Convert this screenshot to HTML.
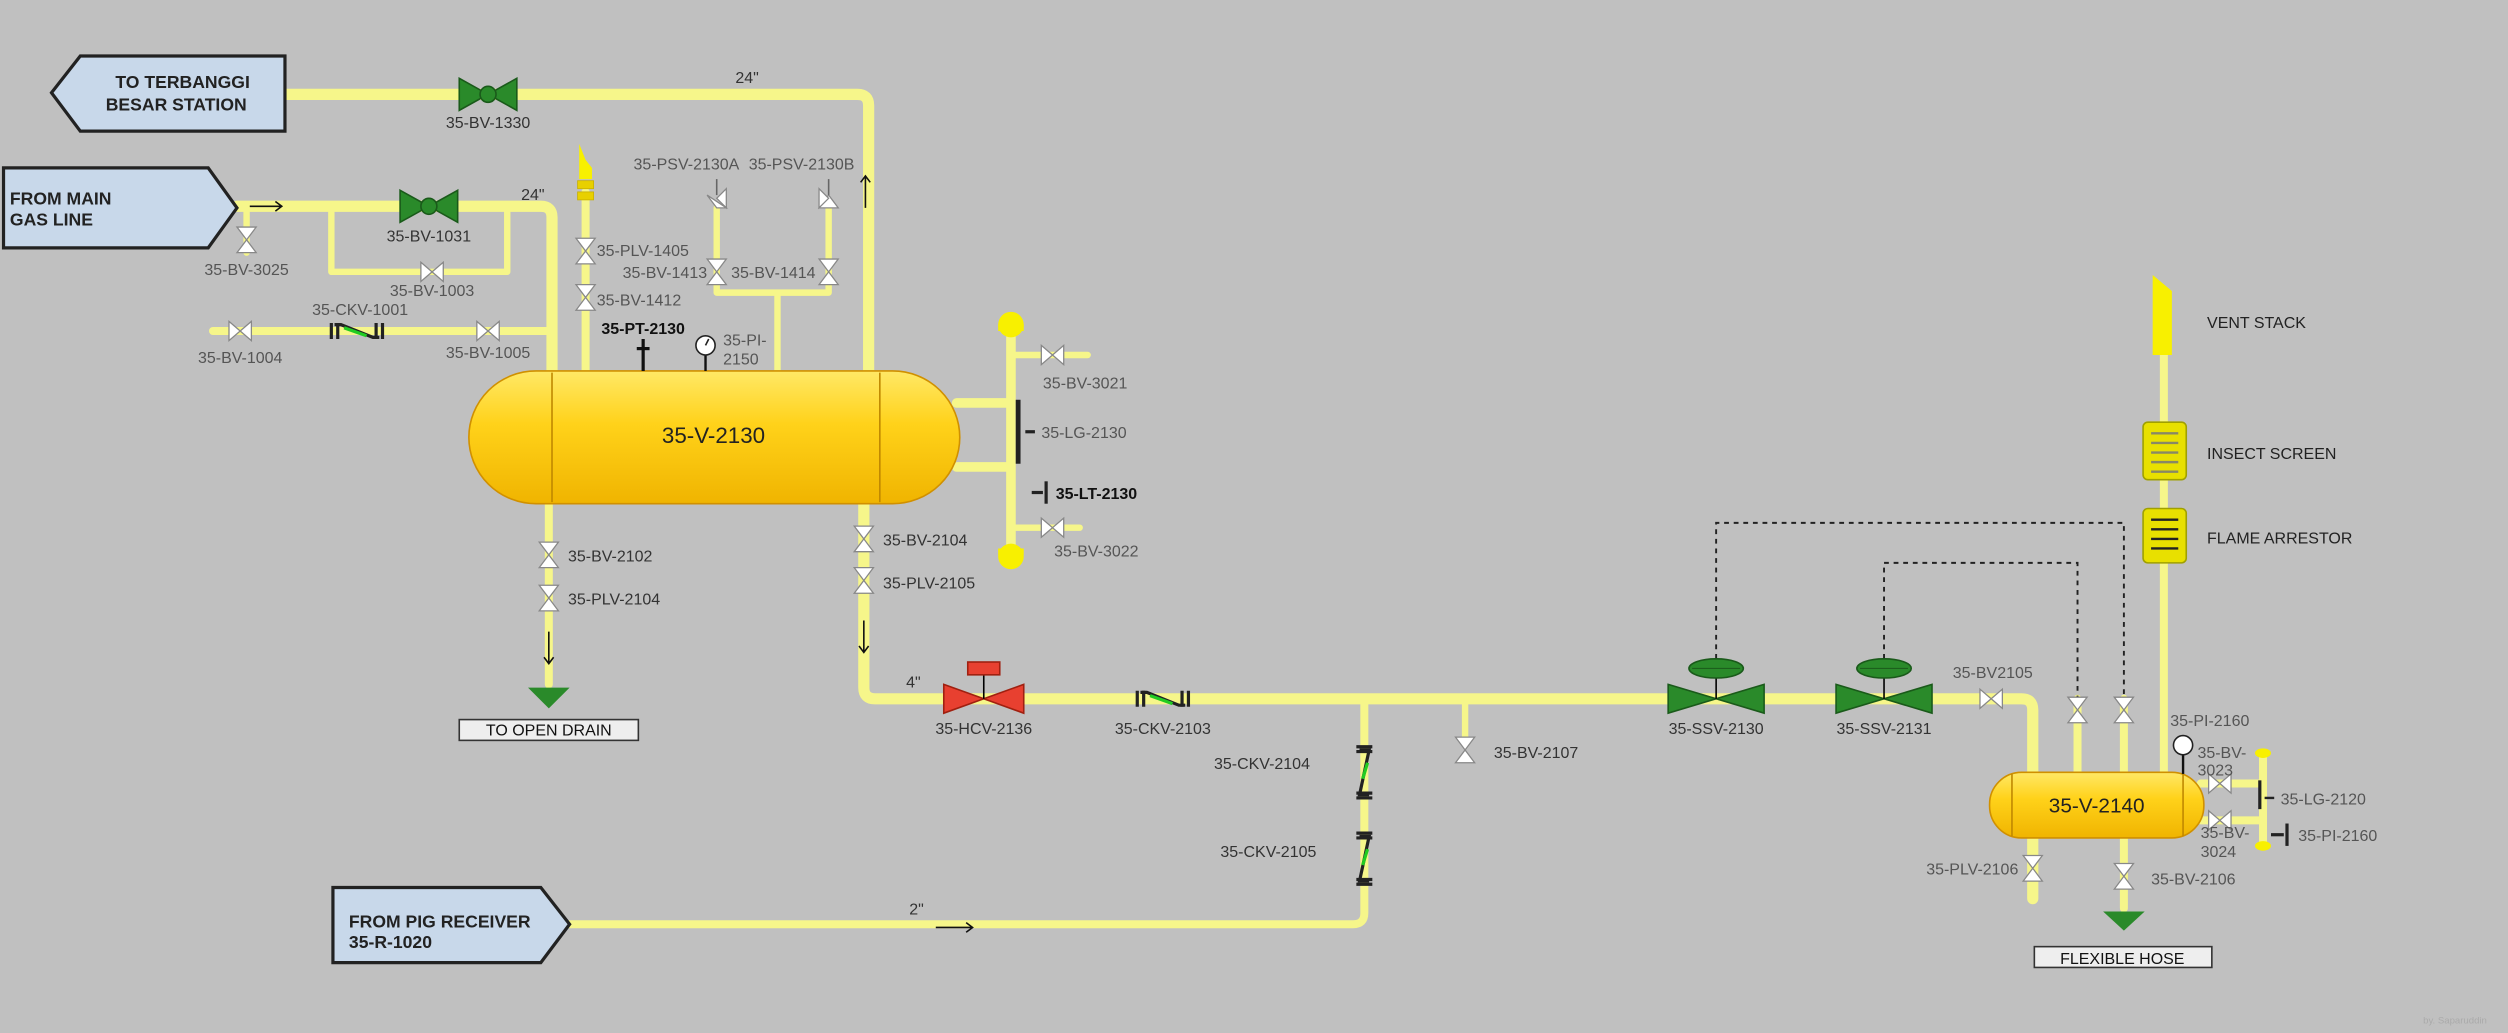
<!DOCTYPE html>
<html><head><meta charset="utf-8"><style>
html,body{margin:0;padding:0;background:#c0c0c0;}
svg{display:block}
text{font-family:"Liberation Sans Narrow","Liberation Sans",sans-serif;}
</style></head><body>
<svg width="2508" height="1033" viewBox="0 0 1568 646" xmlns="http://www.w3.org/2000/svg">
<defs>
<linearGradient id="vg" x1="0" y1="0" x2="0" y2="1">
<stop offset="0" stop-color="#ffe866"/><stop offset="0.4" stop-color="#ffd21a"/><stop offset="1" stop-color="#f0b400"/>
</linearGradient>
<g id="wv"><polygon points="-7,-6 0,0 -7,6" fill="#fff" stroke="#888" stroke-width="0.8"/><polygon points="7,-6 0,0 7,6" fill="#fff" stroke="#888" stroke-width="0.8"/></g>
<g id="wvv"><polygon points="-6,-8 0,0 6,-8" fill="#fff" stroke="#888" stroke-width="0.8"/><polygon points="-6,8 0,0 6,8" fill="#fff" stroke="#888" stroke-width="0.8"/></g>
<g id="gv"><polygon points="-18,-10 0,0 -18,10" fill="#2a8a2a" stroke="#1a5a1a"/><polygon points="18,-10 0,0 18,10" fill="#2a8a2a" stroke="#1a5a1a"/><circle r="5" fill="#2a8a2a" stroke="#1a5a1a"/></g>
<g id="ssv"><polygon points="-30,-9 0,0 -30,9" fill="#2a8a2a" stroke="#1a5a1a"/><polygon points="30,-9 0,0 30,9" fill="#2a8a2a" stroke="#1a5a1a"/><line x1="0" y1="0" x2="0" y2="-16" stroke="#000"/><ellipse cx="0" cy="-19" rx="17" ry="6" fill="#2a8a2a" stroke="#1a5a1a"/><line x1="-15" y1="-19" x2="15" y2="-19" stroke="#1a5a1a" stroke-width="0.6"/></g>
<g id="ckh"><path d="M-16,-5 L-16,5 M-12,-5 L-12,5 M12,-5 L12,5 M16,-5 L16,5" stroke="#222" stroke-width="2"/><path d="M-14,-4 L-10,-4 L10,4 L14,4" stroke="#222" stroke-width="2" fill="none"/><line x1="-8" y1="-2" x2="6" y2="3" stroke="#2c2" stroke-width="2"/></g>
<g id="ckv"><path d="M-5,-16 L5,-16 M-5,-13 L5,-13 M-5,13 L5,13 M-5,16 L5,16" stroke="#222" stroke-width="2"/><path d="M-3,-14 L3,-14 L-3,14 L3,14" stroke="#222" stroke-width="2" fill="none"/><line x1="2" y1="-6" x2="-1" y2="4" stroke="#2c2" stroke-width="2"/></g>
</defs>
<rect width="1568" height="646" fill="#c0c0c0"/>

<g fill="none" stroke="#f6f68a" stroke-linecap="round" stroke-linejoin="round">
<path d="M178,59 L536,59 Q543,59 543,66 L543,232" stroke-width="7"/>
<path d="M148,129 L338,129 Q345,129 345,136 L345,232" stroke-width="7"/>
<path d="M207,129 L207,170 L317,170 L317,129" stroke-width="4"/>
<path d="M154,129 L154,158" stroke-width="4"/>
<path d="M133,207 L342,207" stroke-width="5"/>
<path d="M366,120 L366,232" stroke-width="5"/>
<path d="M448,130 L448,183 L518,183 L518,130 M486,183 L486,232" stroke-width="4"/>
<path d="M598,252 L632,252 M598,292 L632,292 M632,205 L632,345" stroke-width="6"/>
<path d="M632,222 L680,222 M632,330 L675,330" stroke-width="4"/>
<path d="M343,315 L343,428" stroke-width="5"/>
<path d="M540,315 L540,430 Q540,437 547,437 L1264,437 Q1271,437 1271,444 L1271,562" stroke-width="7"/>
<path d="M853,437 L853,571 Q853,578 846,578 L356,578" stroke-width="5"/>
<path d="M916,437 L916,466" stroke-width="4"/>
<path d="M1299,437 L1299,483 M1328,437 L1328,483" stroke-width="5"/>
<path d="M1353,210 L1353,483" stroke-width="5"/>
<path d="M1328,524 L1328,568" stroke-width="5"/>
<path d="M1376,490 L1415,490 M1376,513 L1415,513 M1415,472 L1415,528" stroke-width="5"/>
</g>
<circle cx="632" cy="203" r="8" fill="#f8f000"/><rect x="624" y="203" width="16" height="4" fill="#f8f000"/>
<circle cx="632" cy="348" r="8" fill="#f8f000"/><rect x="624" y="343" width="16" height="4" fill="#f8f000"/>
<ellipse cx="1415" cy="471" rx="5" ry="3" fill="#f8f000"/><ellipse cx="1415" cy="529" rx="5" ry="3" fill="#f8f000"/>

<!-- dashed -->
<path d="M1073,412 L1073,327 L1328,327 L1328,437 M1178,412 L1178,352 L1299,352 L1299,437" fill="none" stroke="#222" stroke-width="1.2" stroke-dasharray="3,3"/>

<!-- boxes -->
<polygon points="32,58 50,35 178,35 178,82 50,82" fill="#c8d8ea" stroke="#222" stroke-width="2"/>
<text x="114" y="55" font-size="11" font-weight="bold" text-anchor="middle" fill="#222">TO TERBANGGI</text>
<text x="110" y="69" font-size="11" font-weight="bold" text-anchor="middle" fill="#222">BESAR STATION</text>
<polygon points="2,105 130,105 148,130 130,155 2,155" fill="#c8d8ea" stroke="#222" stroke-width="2"/>
<text x="6" y="128" font-size="11" font-weight="bold" fill="#222">FROM MAIN</text>
<text x="6" y="141" font-size="11" font-weight="bold" fill="#222">GAS LINE</text>
<polygon points="208,555 338,555 356,578 338,602 208,602" fill="#c8d8ea" stroke="#222" stroke-width="2"/>
<text x="218" y="580" font-size="11" font-weight="bold" fill="#222">FROM PIG RECEIVER</text>
<text x="218" y="593" font-size="11" font-weight="bold" fill="#222">35-R-1020</text>

<!-- vessel 1 -->
<rect x="293" y="232" width="307" height="83" rx="42" ry="42" fill="url(#vg)" stroke="#d09000"/>
<line x1="345" y1="233" x2="345" y2="314" stroke="#c08800"/><line x1="550" y1="233" x2="550" y2="314" stroke="#c08800"/>
<text x="446" y="277" font-size="14" text-anchor="middle" fill="#222">35-V-2130</text>
<!-- vessel 2 -->
<rect x="1244" y="483" width="134" height="41" rx="20" ry="20" fill="url(#vg)" stroke="#d09000"/>
<line x1="1258" y1="484" x2="1258" y2="523" stroke="#c08800"/><line x1="1365" y1="484" x2="1365" y2="523" stroke="#c08800"/>
<text x="1311" y="508" font-size="13" text-anchor="middle" fill="#222">35-V-2140</text>

<!-- valves -->
<use href="#gv" x="305" y="59"/><use href="#gv" x="268" y="129"/>
<use href="#wvv" x="154" y="150"/><use href="#wv" x="270" y="170"/>
<use href="#wv" x="150" y="207"/><use href="#wv" x="305" y="207"/><use href="#ckh" x="223" y="207"/>
<use href="#wvv" x="366" y="157"/><use href="#wvv" x="366" y="186"/>
<use href="#wvv" x="448" y="170"/><use href="#wvv" x="518" y="170"/>
<polygon points="442,122 448,130 454,130" fill="#fff" stroke="#888" stroke-width="0.8"/><polygon points="448,124 454,118 454,130" fill="#fff" stroke="#888" stroke-width="0.8"/><line x1="448" y1="112" x2="448" y2="122" stroke="#666"/>
<polygon points="512,130 518,122 524,130" fill="#fff" stroke="#888" stroke-width="0.8"/><polygon points="518,124 512,118 512,130" fill="#fff" stroke="#888" stroke-width="0.8"/><line x1="518" y1="112" x2="518" y2="122" stroke="#666"/>
<!-- vent element -->
<polygon points="362,90 366,100 370,105 370,112 362,112" fill="#f8f000"/>
<rect x="361" y="113" width="10" height="5" fill="#e8d000" stroke="#c8b000" stroke-width="0.5"/><rect x="361" y="120" width="10" height="5" fill="#e8d000" stroke="#c8b000" stroke-width="0.5"/>
<use href="#wv" x="658" y="222"/><use href="#wv" x="658" y="330"/>
<rect x="635" y="250" width="3" height="40" fill="#222"/><line x1="641" y1="270" x2="647" y2="270" stroke="#222" stroke-width="2"/>
<line x1="645" y1="308" x2="652" y2="308" stroke="#222" stroke-width="2"/><rect x="653" y="301" width="2" height="14" fill="#222"/>
<use href="#wvv" x="343" y="347"/><use href="#wvv" x="343" y="374"/>
<use href="#wvv" x="540" y="337"/><use href="#wvv" x="540" y="363"/>
<polygon points="330,430 356,430 343,443" fill="#2a8a2a"/>
<rect x="287" y="450" width="112" height="13" fill="#eee" stroke="#333"/>
<text x="343" y="460" font-size="10" text-anchor="middle" fill="#111">TO OPEN DRAIN</text>
<!-- PT & PI -->
<line x1="402" y1="212" x2="402" y2="232" stroke="#111" stroke-width="2"/><line x1="398" y1="218" x2="406" y2="218" stroke="#111" stroke-width="2"/>
<line x1="441" y1="222" x2="441" y2="232" stroke="#111" stroke-width="1.5"/><circle cx="441" cy="216" r="6" fill="#fff" stroke="#222"/><line x1="441" y1="216" x2="443" y2="212" stroke="#222"/>
<!-- HCV -->
<polygon points="590,428 615,437 590,446" fill="#e84030" stroke="#a02010"/><polygon points="640,428 615,437 640,446" fill="#e84030" stroke="#a02010"/>
<line x1="615" y1="437" x2="615" y2="422" stroke="#000"/><rect x="605" y="414" width="20" height="8" fill="#e84030" stroke="#a02010"/>
<use href="#ckh" x="727" y="437"/>
<use href="#ckv" x="853" y="483"/><use href="#ckv" x="853" y="537"/>
<use href="#wvv" x="916" y="469"/>
<use href="#ssv" x="1073" y="437"/><use href="#ssv" x="1178" y="437"/>
<use href="#wv" x="1245" y="437"/>
<use href="#wvv" x="1299" y="444"/><use href="#wvv" x="1328" y="444"/>
<use href="#wvv" x="1271" y="543"/><use href="#wvv" x="1328" y="548"/>
<polygon points="1315,570 1341,570 1328,582" fill="#2a8a2a"/>
<rect x="1272" y="592" width="111" height="13" fill="#eee" stroke="#333"/>
<text x="1327" y="603" font-size="10" text-anchor="middle" fill="#111">FLEXIBLE HOSE</text>
<!-- vent stack -->
<polygon points="1346,172 1358,182 1358,222 1346,222" fill="#f8f000"/>
<rect x="1340" y="264" width="27" height="36" rx="3" fill="#e8e000" stroke="#a0a000"/>
<g stroke="#886" stroke-width="1.5"><line x1="1345" y1="271" x2="1362" y2="271"/><line x1="1345" y1="277" x2="1362" y2="277"/><line x1="1345" y1="283" x2="1362" y2="283"/><line x1="1345" y1="289" x2="1362" y2="289"/><line x1="1345" y1="295" x2="1362" y2="295"/></g>
<rect x="1340" y="318" width="27" height="34" rx="3" fill="#e8e000" stroke="#a0a000"/>
<g stroke="#222" stroke-width="1.5"><line x1="1345" y1="325" x2="1362" y2="325"/><line x1="1345" y1="331" x2="1362" y2="331"/><line x1="1345" y1="337" x2="1362" y2="337"/><line x1="1345" y1="343" x2="1362" y2="343"/></g>
<!-- V-2140 instruments -->
<line x1="1365" y1="472" x2="1365" y2="484" stroke="#111" stroke-width="1.5"/><circle cx="1365" cy="466" r="6" fill="#fff" stroke="#222"/>
<use href="#wv" x="1388" y="490"/><use href="#wv" x="1388" y="513"/>
<rect x="1412" y="488" width="2" height="18" fill="#222"/><line x1="1416" y1="499" x2="1422" y2="499" stroke="#222" stroke-width="1.5"/>
<line x1="1420" y1="522" x2="1428" y2="522" stroke="#222" stroke-width="2"/><rect x="1429" y="515" width="2" height="14" fill="#222"/>

<!-- arrows -->
<g stroke="#111" stroke-width="1" fill="none">
<path d="M156,129 L176,129 M172,126 L176,129 L172,132"/>
<path d="M541,130 L541,110 M538,114 L541,110 L544,114"/>
<path d="M343,395 L343,415 M340,411 L343,415 L346,411"/>
<path d="M540,388 L540,408 M537,404 L540,408 L543,404"/>
<path d="M585,580 L608,580 M604,577 L608,580 L604,583"/>
</g>

<!-- labels -->
<g font-size="10" fill="#333">
<text x="305" y="80" text-anchor="middle">35-BV-1330</text>
<text x="467" y="52" text-anchor="middle">24"</text>
<text x="333" y="125" text-anchor="middle">24"</text>
<text x="268" y="151" text-anchor="middle">35-BV-1031</text>
<text x="154" y="172" text-anchor="middle" fill="#555">35-BV-3025</text>
<text x="270" y="185" text-anchor="middle" fill="#555">35-BV-1003</text>
<text x="225" y="197" text-anchor="middle" fill="#555">35-CKV-1001</text>
<text x="150" y="227" text-anchor="middle" fill="#555">35-BV-1004</text>
<text x="305" y="224" text-anchor="middle" fill="#555">35-BV-1005</text>
<text x="373" y="160" fill="#555">35-PLV-1405</text>
<text x="373" y="191" fill="#555">35-BV-1412</text>
<text x="442" y="174" text-anchor="end" fill="#555">35-BV-1413</text>
<text x="457" y="174" fill="#555">35-BV-1414</text>
<text x="396" y="106" fill="#555">35-PSV-2130A</text>
<text x="468" y="106" fill="#555">35-PSV-2130B</text>
<text x="402" y="209" text-anchor="middle" font-weight="bold" fill="#111">35-PT-2130</text>
<text x="452" y="216" fill="#555">35-PI-</text>
<text x="452" y="228" fill="#555">2150</text>
<text x="652" y="243" fill="#555">35-BV-3021</text>
<text x="651" y="274" fill="#555">35-LG-2130</text>
<text x="660" y="312" font-weight="bold" fill="#111">35-LT-2130</text>
<text x="659" y="348" fill="#555">35-BV-3022</text>
<text x="355" y="351">35-BV-2102</text>
<text x="355" y="378">35-PLV-2104</text>
<text x="552" y="341">35-BV-2104</text>
<text x="552" y="368">35-PLV-2105</text>
<text x="571" y="430" text-anchor="middle">4"</text>
<text x="573" y="572" text-anchor="middle">2"</text>
<text x="615" y="459" text-anchor="middle">35-HCV-2136</text>
<text x="727" y="459" text-anchor="middle">35-CKV-2103</text>
<text x="819" y="481" text-anchor="end">35-CKV-2104</text>
<text x="823" y="536" text-anchor="end">35-CKV-2105</text>
<text x="934" y="474">35-BV-2107</text>
<text x="1073" y="459" text-anchor="middle">35-SSV-2130</text>
<text x="1178" y="459" text-anchor="middle">35-SSV-2131</text>
<text x="1246" y="424" text-anchor="middle" fill="#555">35-BV2105</text>
<text x="1357" y="454" fill="#555">35-PI-2160</text>
<text x="1374" y="474" fill="#555">35-BV-</text>
<text x="1374" y="485" fill="#555">3023</text>
<text x="1426" y="503" fill="#555">35-LG-2120</text>
<text x="1376" y="524" fill="#555">35-BV-</text>
<text x="1376" y="536" fill="#555">3024</text>
<text x="1437" y="526" fill="#555">35-PI-2160</text>
<text x="1262" y="547" text-anchor="end" fill="#555">35-PLV-2106</text>
<text x="1345" y="553" fill="#555">35-BV-2106</text>
<text x="1380" y="205" fill="#222">VENT STACK</text>
<text x="1380" y="287" fill="#222">INSECT SCREEN</text>
<text x="1380" y="340" fill="#222">FLAME ARRESTOR</text>
</g>
<text x="1555" y="640" font-size="6" text-anchor="end" fill="#aaa">by. Saparuddin</text>
</svg>
</body></html>
